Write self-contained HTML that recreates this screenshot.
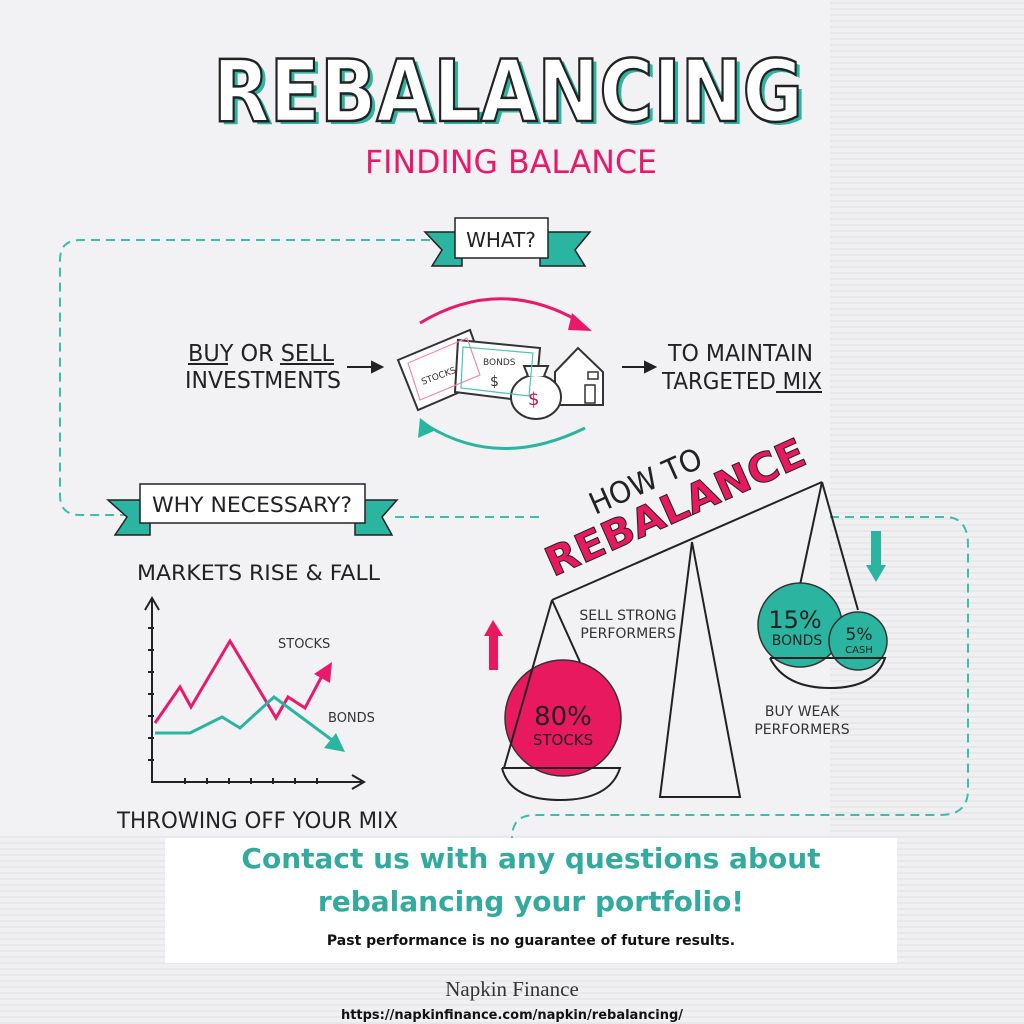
<!DOCTYPE html>
<html><head><meta charset="utf-8"><style>
html,body{margin:0;padding:0}
body{width:1024px;height:1024px;overflow:hidden;background:#f1f1f3;font-family:"Liberation Sans",sans-serif;position:relative}
svg{position:absolute;left:0;top:0}
.box{position:absolute;left:165px;top:838px;width:732px;height:125px;background:#fff}
.t1{position:absolute;left:165px;width:732px;text-align:center;color:#33aa9d;font-weight:bold;font-size:28px;font-family:"DejaVu Sans","Liberation Sans",sans-serif}
</style></head><body>
<svg width="1024" height="1024" viewBox="0 0 1024 1024">
<defs>
<pattern id="wf" width="8" height="6" patternUnits="userSpaceOnUse"><rect width="8" height="6" fill="#f0f0f2"/><line x1="0" y1="3" x2="8" y2="3" stroke="#e3e3e5" stroke-width="1.2"/></pattern>
</defs>
<rect x="830" y="0" width="194" height="1024" fill="url(#wf)"/>
<rect x="0" y="835" width="1024" height="189" fill="url(#wf)"/>
<rect x="0" y="0" width="830" height="835" fill="#f2f2f4"/>
<g font-family="DejaVu Sans" font-weight="bold" font-size="86" text-anchor="middle">
<text x="512" y="124" fill="#2bb5a0" textLength="590" lengthAdjust="spacingAndGlyphs">REBALANCING</text>
<text x="508" y="121" fill="#fff" stroke="#222" stroke-width="2.5" textLength="590" lengthAdjust="spacingAndGlyphs">REBALANCING</text>
</g>
<text x="511" y="173" font-family="DejaVu Sans" font-size="32" fill="#e8196a" text-anchor="middle" textLength="292" lengthAdjust="spacingAndGlyphs">FINDING BALANCE</text>
<g fill="none" stroke="#3bbfa8" stroke-width="2" stroke-dasharray="9,6">
<path d="M430,240 H80 Q60,240 60,260 V495 Q60,515 80,515 H125"/>
<path d="M395,517 H545"/>
<path d="M830,517 H945 Q968,517 968,545 V790 Q968,815 940,815 H535 Q512,815 512,838"/>
</g>
<g stroke="#222" stroke-width="1.5">
<path d="M425,232 H462 V266 H432 L442,250 Z" fill="#2bb5a0"/>
<path d="M590,232 H540 V266 H585 L575,250 Z" fill="#2bb5a0"/>
<rect x="455" y="218" width="93" height="40" fill="#fff"/>
</g>
<text x="501" y="247" font-family="DejaVu Sans" font-size="20" text-anchor="middle" fill="#222">WHAT?</text>
<g stroke="#222" stroke-width="1.5">
<path d="M108,500 H150 V535 H115 L127,517 Z" fill="#2bb5a0"/>
<path d="M397,500 H355 V535 H392 L382,517 Z" fill="#2bb5a0"/>
<rect x="140" y="484" width="225" height="39" fill="#fff"/>
</g>
<text x="252" y="512" font-family="DejaVu Sans" font-size="21" text-anchor="middle" fill="#222" textLength="200" lengthAdjust="spacingAndGlyphs">WHY NECESSARY?</text>
<g font-family="DejaVu Sans" font-size="23" fill="#222">
<text x="188" y="361" textLength="146" lengthAdjust="spacingAndGlyphs">BUY OR SELL</text>
<text x="185" y="388" textLength="156" lengthAdjust="spacingAndGlyphs">INVESTMENTS</text>
<text x="668" y="361" textLength="145" lengthAdjust="spacingAndGlyphs">TO MAINTAIN</text>
<text x="662" y="389" textLength="160" lengthAdjust="spacingAndGlyphs">TARGETED MIX</text>
</g>
<g stroke="#222" stroke-width="2" fill="none">
<line x1="188" y1="364" x2="228" y2="364"/><line x1="280" y1="364" x2="334" y2="364"/>
<line x1="776" y1="392" x2="822" y2="392"/>
<line x1="347" y1="367" x2="378" y2="367"/><path d="M372,362 L382,367 L372,372 Z" fill="#222"/>
<line x1="622" y1="367" x2="650" y2="367"/><path d="M645,362 L655,367 L645,372 Z" fill="#222"/>
</g>
<path d="M420,323 Q500,275 580,322" fill="none" stroke="#e8196a" stroke-width="3"/>
<path d="M572,313 L592,331 L568,330 Z" fill="#e8196a"/>
<path d="M585,428 Q500,470 428,426" fill="none" stroke="#2bb5a0" stroke-width="3"/>
<path d="M420,418 L418,438 L436,430 Z" fill="#2bb5a0"/>
<g stroke="#333" stroke-width="2">
<path d="M398,360 L470,330 L488,380 L418,410 Z" fill="#fff"/>
<path d="M458,340 L540,348 L535,402 L455,392 Z" fill="#fff"/>
<path d="M555,372 L578,348 L603,372 V405 H555 Z" fill="#fff"/>
<rect x="588" y="372" width="10" height="7" fill="none" stroke-width="1.5"/>
<rect x="585" y="385" width="10" height="18" fill="none" stroke-width="1.5"/>
<ellipse cx="536" cy="397" rx="25" ry="22" fill="#fff"/>
<path d="M528,376 L524,366 L548,366 L544,376" fill="#fff"/>
</g>
<path d="M408,363 L467,338 L480,375 L420,400 Z" fill="none" stroke="#f08aa8" stroke-width="1.2"/>
<path d="M463,347 L533,353 L529,396 L461,388 Z" fill="none" stroke="#4cc4b0" stroke-width="1.2"/>
<g font-family="DejaVu Sans" font-size="9" fill="#333">
<text x="420" y="380" transform="rotate(-20 435 375)">STOCKS</text>
<text x="483" y="365">BONDS</text>
<text x="490" y="386" font-size="14">$</text>
<text x="528" y="405" font-size="18" fill="#c8154f">$</text>
</g>
<text x="137" y="580" font-family="DejaVu Sans" font-size="21" fill="#222" textLength="243" lengthAdjust="spacingAndGlyphs">MARKETS RISE &amp; FALL</text>
<g stroke="#222" stroke-width="2" fill="none">
<path d="M152,600 V782 H362"/><path d="M145,610 L152,598 L159,610"/><path d="M352,775 L364,782 L352,789"/>
<path d="M148,628 h6 M148,650 h6 M148,672 h6 M148,694 h6 M148,716 h6 M148,738 h6 M148,760 h6 M185,778 v6 M207,778 v6 M229,778 v6 M251,778 v6 M273,778 v6 M295,778 v6 M317,778 v6"/>
</g>
<polyline points="155,723 180,687 191,707 230,641 276,718 288,697 305,708 322,676" fill="none" stroke="#e8196a" stroke-width="3"/>
<path d="M314,674 L332,662 L330,683 Z" fill="#e8196a"/>
<polyline points="155,733 190,733 222,717 240,728 274,697 332,740" fill="none" stroke="#2bb5a0" stroke-width="3"/>
<path d="M324,748 L345,752 L336,733 Z" fill="#2bb5a0"/>
<text x="278" y="648" font-family="DejaVu Sans" font-size="13" fill="#333">STOCKS</text>
<text x="328" y="722" font-family="DejaVu Sans" font-size="13" fill="#333">BONDS</text>
<text x="117" y="828" font-family="DejaVu Sans" font-size="22" fill="#222" textLength="281" lengthAdjust="spacingAndGlyphs">THROWING OFF YOUR MIX</text>
<g stroke="#222" stroke-width="2" fill="none">
<path d="M692,542 L660,797 H740 Z" fill="#f2f2f4"/>
<line x1="552" y1="600" x2="822" y2="482"/>
</g>
<circle cx="563" cy="718" r="58" fill="#e8195f" stroke="#333" stroke-width="1.5"/>
<g stroke="#222" stroke-width="2" fill="none">
<path d="M552,600 L504,768 M552,600 L580,662"/>
<path d="M502,768 H620 Q610,800 560,800 Q510,800 502,768"/>
<line x1="822" y1="482" x2="800" y2="585"/><line x1="822" y1="482" x2="858" y2="610"/>
</g>
<circle cx="800" cy="625" r="42" fill="#2bb5a0" stroke="#333" stroke-width="1.5"/>
<circle cx="858" cy="641" r="29" fill="#2bb5a0" stroke="#333" stroke-width="1.5"/>
<path d="M770,658 H885 Q875,688 830,688 Q785,688 770,658" fill="none" stroke="#222" stroke-width="2"/>
<g font-family="DejaVu Sans" fill="#222">
<text x="563" y="725" font-size="26" text-anchor="middle">80%</text>
<text x="563" y="745" font-size="15" text-anchor="middle">STOCKS</text>
<text x="795" y="628" font-size="24" text-anchor="middle">15%</text>
<text x="797" y="645" font-size="14" text-anchor="middle">BONDS</text>
<text x="859" y="640" font-size="17" text-anchor="middle">5%</text>
<text x="859" y="653" font-size="10" text-anchor="middle">CASH</text>
<text x="628" y="620" font-size="14" text-anchor="middle" fill="#333">SELL STRONG</text>
<text x="628" y="638" font-size="14" text-anchor="middle" fill="#333">PERFORMERS</text>
<text x="802" y="716" font-size="14" text-anchor="middle" fill="#333">BUY WEAK</text>
<text x="802" y="734" font-size="14" text-anchor="middle" fill="#333">PERFORMERS</text>
<text x="595" y="515" font-size="30" transform="rotate(-24 595 515)" textLength="120" lengthAdjust="spacingAndGlyphs">HOW TO</text>
<text x="553" y="577" font-size="40" font-weight="bold" fill="#e8195f" stroke="#222" stroke-width="1" transform="rotate(-24 553 577)" textLength="280" lengthAdjust="spacingAndGlyphs">REBALANCE</text>
</g>
<path d="M493,620 L484,636 H489 V670 H498 V636 H503 Z" fill="#e8195f"/>
<path d="M876,582 L866,565 H871 V531 H881 V565 H886 Z" fill="#2bb5a0"/>
<text x="512" y="996" font-family="Liberation Serif" font-size="21" fill="#333" text-anchor="middle">Napkin Finance</text>
<text x="512" y="1019" font-family="DejaVu Sans" font-weight="bold" font-size="13" fill="#111" text-anchor="middle">https://napkinfinance.com/napkin/rebalancing/</text>
</svg>
<div class="box"></div>
<div class="t1" style="top:842px">Contact us with any questions about</div>
<div class="t1" style="top:885px">rebalancing your portfolio!</div>
<div style="position:absolute;left:165px;width:732px;top:933px;text-align:center;font-size:14px;font-weight:bold;color:#111;font-family:'DejaVu Sans',sans-serif">Past performance is no guarantee of future results.</div>
</body></html>
